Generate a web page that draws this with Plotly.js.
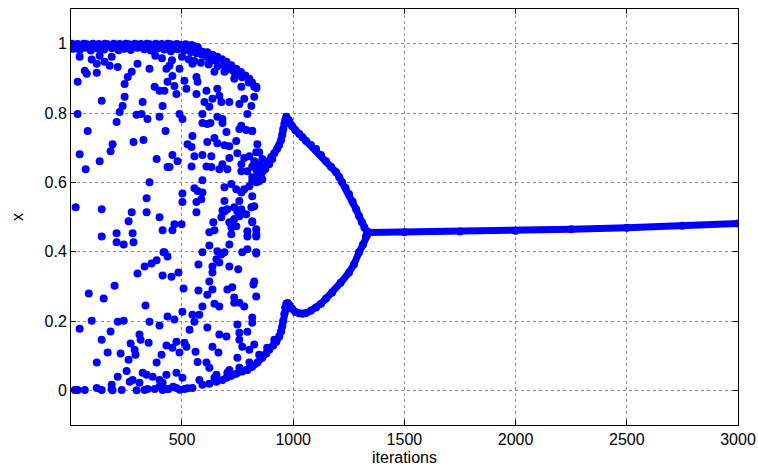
<!DOCTYPE html>
<html>
<head>
<meta charset="utf-8">
<script src="https://cdn.plot.ly/plotly-3.0.1.min.js"></script>
<style>html,body{margin:0;padding:0;background:#fff;}#chart{width:758px;height:472px;}</style>
</head>
<body>
<div id="chart"></div>
<script>
// x-axis tick values
const xTicks = [500, 1000, 1500, 2000, 2500, 3000];
const yTicks = [0, 0.2, 0.4, 0.6, 0.8, 1];
const yTickText = ['0', '0.2', '0.4', '0.6', '0.8', '1'];

// chaotic region, upper part
const chaosUpperX = [
4,18,31,45,58,72,85,99,112,126,
139,153,166,180,193,207,220,234,247,261,
274,288,301,315,328,342,355,369,382,396,
409,423,436,450,463,477,490,504,517,531,
544,558,571,
10,40,63,90,120,150,185,215,240,270,
300,330,360,390,420,450,480,510,540,565,590,
592,614,637,659,680,700,722,744,765,785,803,815,825,835,
610,650,690,730,770,800,
40,94,63,72,117,117,130,152,184,175,
211,31,139,31,242,256,242,233,220,206,
296,318,345,399,323,274,300,354,377,399,
413,435,430,
421,466,475,511,520,565,570,565,610,601,
623,637,659,668,677,713,735,767,758,780,
812,825,834,794,489,502,592,614,659,682,
767,623,646,691,444,489,547,457,
592,628,682,547,700,758,789,816,76,426,
380,410,455,500,530,555,585,620,660,700,740
];
const chaosUpperY = [
1.0,0.997,0.999,0.995,1.0,0.998,0.996,1.0,0.997,0.999,
0.995,1.0,0.998,0.996,1.0,0.997,0.999,0.995,1.0,0.998,
0.996,1.0,0.997,0.999,0.995,1.0,0.998,0.996,1.0,0.997,
0.999,0.995,1.0,0.998,0.996,0.999,0.997,0.995,0.998,0.994,
0.996,0.992,0.99,
0.985,0.982,0.988,0.98,0.986,0.983,0.987,0.981,0.985,0.982,
0.988,0.984,0.98,0.986,0.983,0.978,0.984,0.98,0.976,0.972,0.968,
0.977,0.975,0.968,0.962,0.955,0.948,0.938,0.928,0.918,0.908,0.899,0.888,0.876,0.872,
0.962,0.952,0.938,0.922,0.903,0.888,
0.962,0.954,0.922,0.913,0.942,0.916,0.965,0.948,0.962,0.936,
0.933,0.89,0.835,0.797,0.884,0.904,0.847,0.82,0.803,0.774,
0.795,0.797,0.783,0.789,0.832,0.919,0.942,0.928,0.876,0.864,
0.82,0.89,0.928,
0.864,0.878,0.855,0.893,0.87,0.904,0.89,0.855,0.864,0.832,
0.818,0.841,0.87,0.85,0.832,0.832,0.899,0.876,0.826,0.841,
0.82,0.847,0.876,0.797,0.797,0.783,0.797,0.768,0.789,0.783,
0.763,0.948,0.919,0.919,0.936,0.928,0.942,0.907,
0.771,0.771,0.771,0.734,0.745,0.754,0.751,0.748,0.748,0.748,
0.965,0.958,0.952,0.962,0.955,0.95,0.945,0.94,0.935,0.925,0.912
];

// chaotic region, middle part
const chaosMidX = [
40,67,130,179,188,282,327,386,435,354,
341,22,139,274,341,399,260,
139,206,278,206,238,282,413,417,386,363,
332,300,413,197,81,148,
525,543,614,646,659,691,713,744,839,457,
480,444,556,592,632,543,610,632,668,704,
682,713,749,767,780,803,847,861,847,767,
794,816,839,861,847,592,691,722,744,767,
780,803,556,570,592,587,502,502,565,758,
691,704,682,735,767,812,789,758,677,
565,691,749,466,498,457,641,713,735,722,
744,816,623,646,722,794,834,794,834,623,
713,421,435,592,659,677,691,771,794,834,
655,668,574,713,753,637,637,453,484,623,
637,574,507,614,704,726,825,821,834,735,758,
816,834,825,816,847,834,816,816,825,816,834,834,
847,861,874,892,906
];
const chaosMidY = [
0.681,0.638,0.661,0.69,0.71,0.716,0.722,0.667,0.644,0.6,
0.554,0.528,0.522,0.514,0.514,0.499,0.488,
0.444,0.453,0.453,0.427,0.421,0.427,0.462,0.398,0.375,0.366,
0.357,0.337,0.331,0.302,0.279,0.265,
0.71,0.702,0.716,0.728,0.713,0.707,0.704,0.719,0.71,0.679,
0.661,0.644,0.675,0.679,0.675,0.646,0.646,0.644,0.638,0.638,
0.652,0.67,0.684,0.652,0.67,0.675,0.687,0.667,0.646,0.632,
0.632,0.615,0.629,0.632,0.603,0.606,0.586,0.595,0.58,0.571,
0.58,0.589,0.583,0.575,0.571,0.551,0.568,0.543,0.543,0.546,
0.546,0.522,0.519,0.528,0.522,0.528,0.508,0.502,0.499,
0.514,0.516,0.516,0.479,0.479,0.462,0.485,0.485,0.494,0.47,
0.473,0.485,0.456,0.462,0.45,0.459,0.465,0.444,0.444,0.418,
0.421,0.398,0.386,0.398,0.401,0.392,0.398,0.398,0.407,0.395,
0.378,0.369,0.363,0.357,0.349,0.357,0.34,0.328,0.34,0.314,
0.291,0.288,0.294,0.276,0.291,0.297,0.314,0.305,0.271,0.268,0.253,
0.748,0.687,0.661,0.646,0.652,0.638,0.603,0.56,0.531,0.488,0.45,0.398,
0.623,0.609,0.638,0.652,0.667
];

// chaotic region, lower part
const chaosLowerX = [
336,40,94,211,238,354,399,435,179,139,
309,314,269,350,166,224,287,291,260,408,
430,117,386,251,211,323,341,368,265,278,
184,309,399,413,
18,31,63,117,139,184,188,229,296,332,
345,377,413,435,399,475,511,547,440,460,
490,525,
592,646,735,780,466,502,547,578,556,534,
614,749,758,794,668,700,758,475,511,457,
489,520,561,637,664,771,803,825,749,570,
610,623,713,655,475,502,430,668,
578,646,704,758,803,847,883,915,
592,623,655,682,816,816
];
const chaosLowerY = [
0.245,0.178,0.201,0.198,0.201,0.198,0.187,0.213,0.17,0.146,
0.161,0.146,0.135,0.137,0.109,0.106,0.117,0.103,0.088,0.103,
0.129,0.08,0.08,0.056,0.039,0.051,0.045,0.039,0.025,0.03,
0.016,0.022,0.03,0.022,
0.001,0.001,0.001,0.007,0.001,0.004,0.0,0.001,0.0,0.001,
0.004,0.004,0.001,0.004,0.01,0.007,0.004,0.007,0.004,0.01,
0.002,0.006,
0.242,0.25,0.253,0.242,0.204,0.227,0.218,0.218,0.198,0.175,
0.181,0.19,0.166,0.169,0.161,0.155,0.146,0.14,0.137,0.123,
0.109,0.126,0.111,0.126,0.109,0.126,0.117,0.132,0.094,0.082,
0.08,0.065,0.059,0.045,0.051,0.036,0.045,0.242,
0.03,0.036,0.051,0.065,0.08,0.103,0.123,0.146,
0.016,0.019,0.025,0.03,0.21,0.195
];

// period-2 upper branch
const upperBranchX = [834,847,861,874,888,901,915,928,937,946,951,955,960,964,969,980,995,1010,1027,1042,1058,1080,1103,1125,1148,1170,1193,1207,1220,1236,1251,1267,1283,1296,1309,1320,1332,1340];
const upperBranchY = [0.6,0.615,0.632,0.646,0.66,0.673,0.684,0.697,0.708,0.722,0.738,0.753,0.768,0.78,0.789,0.78,0.762,0.75,0.74,0.73,0.719,0.708,0.696,0.679,0.661,0.645,0.629,0.615,0.6,0.584,0.566,0.545,0.522,0.503,0.485,0.47,0.456,0.455];

// period-2 lower branch
const lowerBranchX = [700,722,744,771,794,816,839,861,879,892,910,924,937,946,951,955,960,964,969,975,982,995,1010,1027,1042,1058,1080,1103,1125,1148,1175,1213,1251,1273,1296,1314,1327,1340];
const lowerBranchY = [0.036,0.042,0.048,0.054,0.059,0.068,0.08,0.094,0.106,0.117,0.129,0.14,0.155,0.17,0.185,0.2,0.22,0.238,0.25,0.252,0.246,0.235,0.226,0.222,0.221,0.223,0.23,0.239,0.25,0.265,0.282,0.31,0.34,0.363,0.398,0.421,0.444,0.455];

// fixed point tail
const tailX = [1340,1500,1750,2000,2250,2500,2750,3000];
const tailY = [0.455,0.456,0.458,0.46,0.465,0.469,0.475,0.481];

const blue = '#0000ff';
const dots = (x, y) => ({x, y, type:'scatter', mode:'markers', marker:{color:blue, size:8, line:{width:0}}, hoverinfo:'skip'});
const lineDots = (x, y) => ({x, y, type:'scatter', mode:'lines+markers', line:{color:blue, width:7}, marker:{color:blue, size:8, line:{width:0}}, hoverinfo:'skip'});

const data = [
  dots(chaosUpperX, chaosUpperY),
  dots(chaosMidX, chaosMidY),
  dots(chaosLowerX, chaosLowerY),
  lineDots(upperBranchX, upperBranchY),
  lineDots(lowerBranchX, lowerBranchY),
  lineDots(tailX, tailY)
];

const axisCommon = {
  showline:true, linecolor:'#000', linewidth:1, mirror:'ticks',
  ticks:'inside', ticklen:5, tickcolor:'#000', tickwidth:1,
  showgrid:true, gridcolor:'#8c8c8c', griddash:'dot', gridwidth:1,
  zeroline:false
};

const layout = {
  width:758, height:472,
  margin:{l:71, r:20, t:9, b:47},
  paper_bgcolor:'#fff', plot_bgcolor:'#fff',
  showlegend:false,
  font:{family:'Liberation Sans, Arial, sans-serif', size:16, color:'#000'},
  xaxis:Object.assign({}, axisCommon, {
    range:[1, 3000], tickvals:xTicks,
    title:{text:'iterations', standoff:4, font:{size:16}}
  }),
  yaxis:Object.assign({}, axisCommon, {
    range:[-0.1, 1.1], tickvals:yTicks, ticktext:yTickText,
    title:{text:'x', standoff:16, font:{size:16}}
  })
};

Plotly.newPlot('chart', data, layout, {staticPlot:true, displayModeBar:false});
</script>
</body>
</html>
